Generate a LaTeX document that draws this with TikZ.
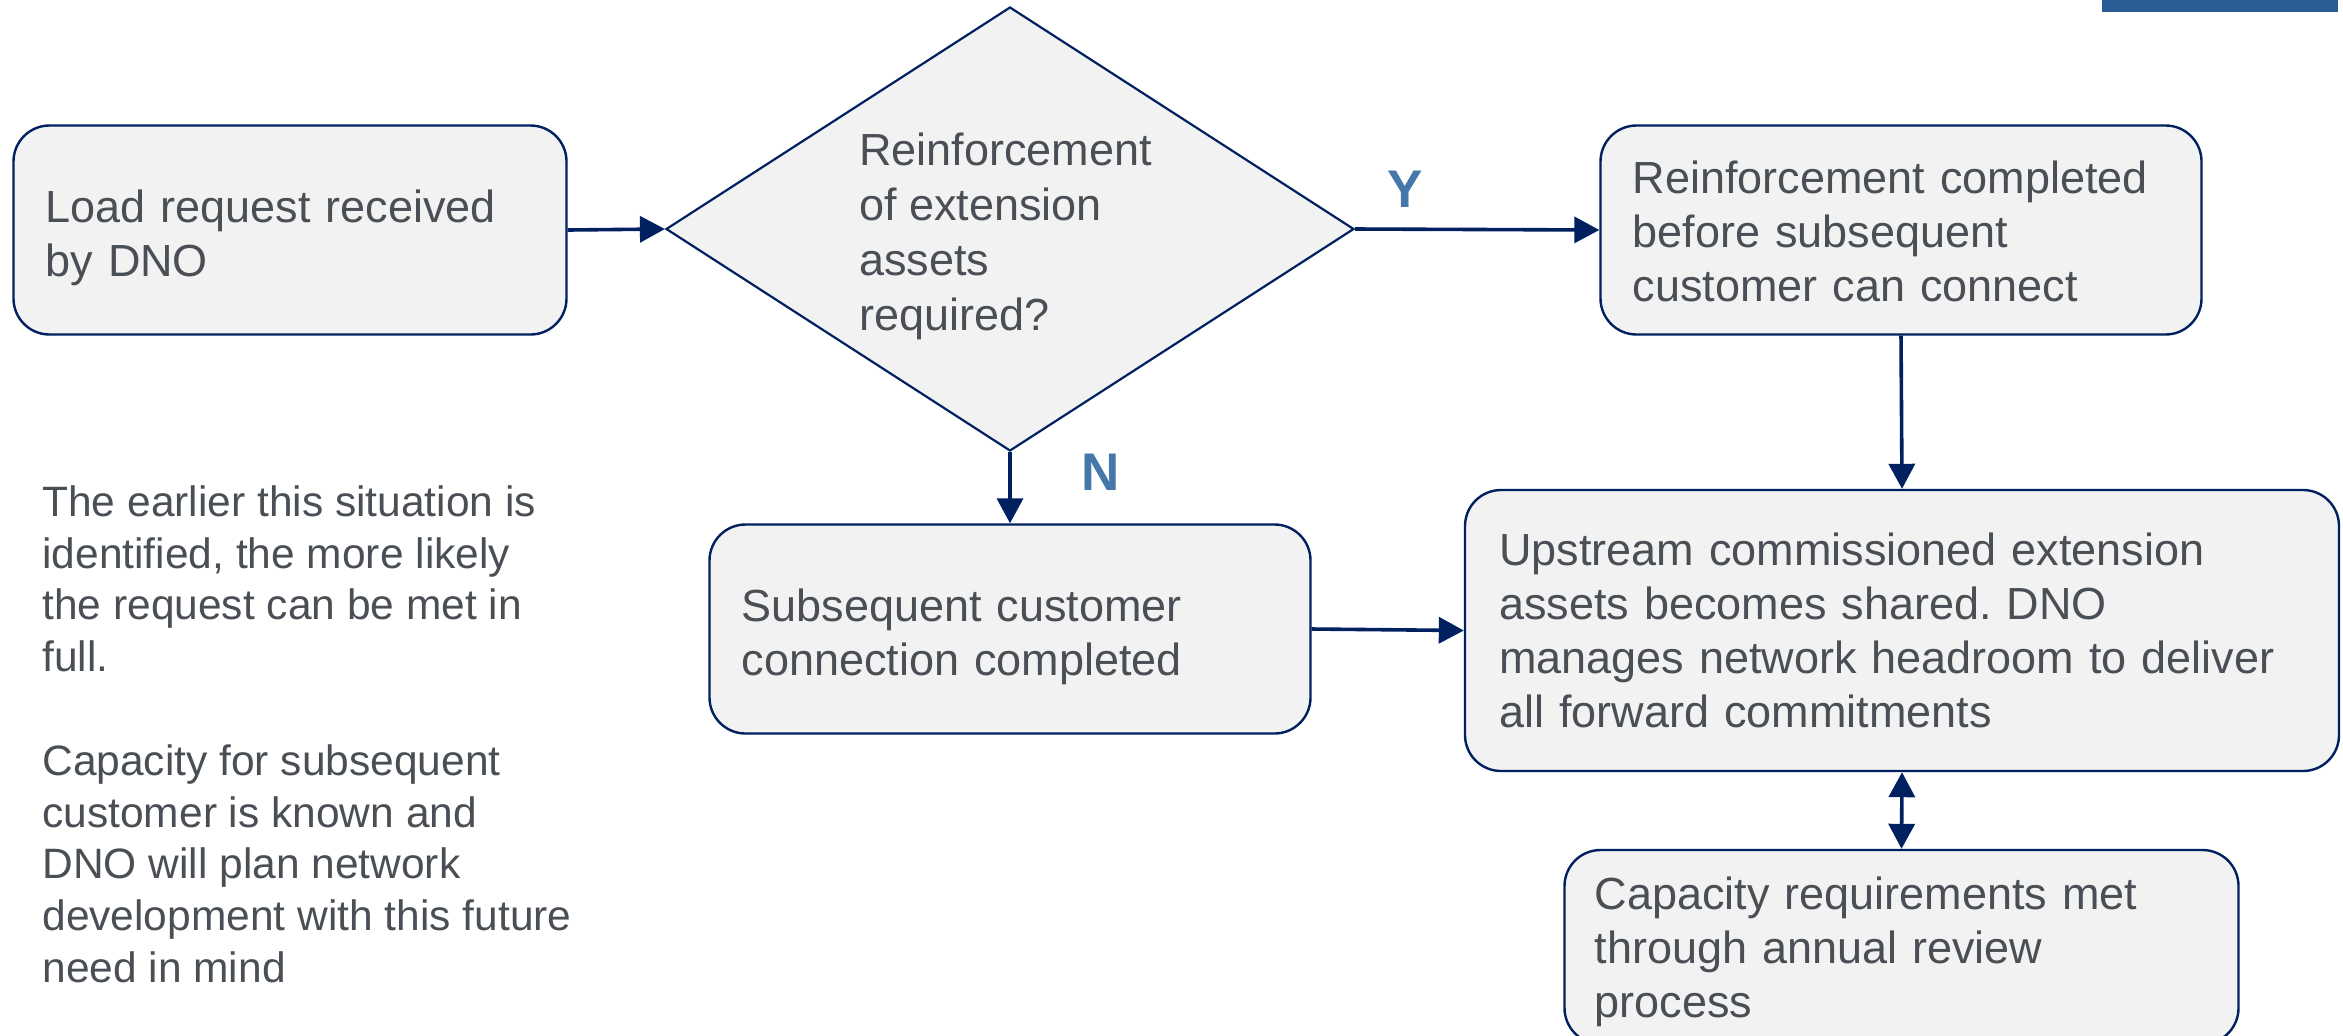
\documentclass[tikz,border=0pt]{standalone}
\usepackage{fontspec}
\setmainfont{Liberation Sans}
\frenchspacing
\usetikzlibrary{arrows.meta,shapes.geometric}

\definecolor{navy}{HTML}{002060}
\definecolor{boxfill}{HTML}{F2F2F2}
\definecolor{txt}{HTML}{494F55}
\definecolor{yncol}{HTML}{4677AA}
\definecolor{barblue}{HTML}{2A5D96}

% invisible strut that lowers the first line of a box text
\newcommand\firstlinestrut[1]{\rule{0pt}{#1}}

\tikzset{
  procbox/.style={draw=navy, line width=1.2pt, fill=boxfill, rounded corners=18pt,
    text=txt, font=\fontsize{22.5}{27}\selectfont, align=left,
    inner xsep=16pt, inner ysep=0pt},
  decbox/.style={shape=diamond, draw=navy, line width=1.1pt, fill=boxfill,
    inner sep=0pt, aspect=1.55},
  dectext/.style={inner sep=0pt, text=txt, align=left,
    font=\fontsize{22.5}{27.5}\selectfont},
  notetext/.style={inner sep=0pt, align=left, text=txt,
    font=\fontsize{21.25}{25.9}\selectfont},
  ynlabel/.style={inner sep=0pt, text=yncol, font=\bfseries\fontsize{26.5}{30}\selectfont},
  conn/.style={draw=navy, line width=1.8pt, -{Triangle[length=12.5pt,width=13pt]}},
  biconn/.style={draw=navy, line width=1.8pt,
    {Triangle[length=12.5pt,width=13pt]}-{Triangle[length=12.5pt,width=13pt]}}
}

\begin{document}
\begin{tikzpicture}[x=0.5pt, y=-0.5pt]
  \useasboundingbox (0,0) rectangle (2343,1035);

  % header bar
  \fill[barblue] (2102,0) rectangle (2338,12);

  % process steps
  \node[procbox, minimum width=276.5pt, minimum height=104.5pt, text width=244.5pt]
    (load) at (290,230) {\firstlinestrut{23.9pt}Load request received\\by DNO};
  \node[decbox, minimum width=344pt, minimum height=222pt] (dec) at (1010,229) {};
  \node[dectext] (dectxt) at (1005.5,236.5) {Reinforcement\\of extension\\assets\\required?};
  \node[procbox, minimum width=300.5pt, minimum height=104.5pt, text width=268.5pt]
    (reinf) at (1901,230) {\firstlinestrut{17.9pt}Reinforcement completed\\before subsequent\\customer can connect};
  \node[procbox, minimum width=300.5pt, minimum height=104.5pt, text width=268.5pt]
    (subs) at (1010,629) {\firstlinestrut{23.9pt}Subsequent customer\\connection completed};
  \node[procbox, minimum width=435pt, minimum height=140.5pt, text width=403pt, inner xsep=17pt]
    (up) at (1902,630.5) {Upstream commissioned extension\\assets becomes shared. DNO\\manages network headroom to deliver\\all forward commitments};
  \node[procbox, minimum width=337pt, minimum height=97pt, text width=307pt, inner xsep=15pt]
    (cap) at (1901.5,947) {\firstlinestrut{20.9pt}Capacity requirements met\\through annual review\\process};

  % decision labels
  \node[ynlabel] (ylab) at (1405,189) {Y};
  \node[ynlabel] (nlab) at (1101,472) {N};

  % side note
  \node[notetext, anchor=north west] (note) at (42,485)
    {The earlier this situation is\\identified, the more likely\\the request can be met in\\full.\\[25.9pt]
     Capacity for subsequent\\customer is known and\\DNO will plan network\\development with this future\\need in mind};

  % connectors
  \draw[conn] (load.east) -- (dec.west);
  \draw[conn] (dec.east) -- (reinf.west);
  \draw[conn] (dec.south) -- (subs.north);
  \draw[conn] (reinf.south) -- (up.north);
  \draw[conn] (subs.east) -- (up.west);
  \draw[biconn] (up.south) -- (cap.north);
\end{tikzpicture}
\end{document}
